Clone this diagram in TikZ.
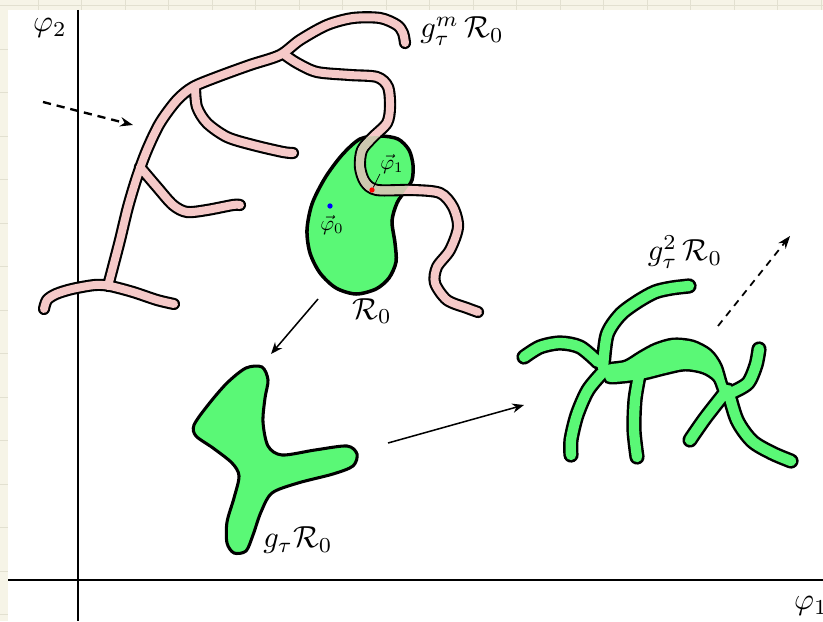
\documentclass[tikz,border=0pt]{standalone}
\usepackage{amsmath}
\usepackage{amssymb}
\usepackage{xcolor}
\usepackage{tikz}
\usetikzlibrary{arrows.meta}

\definecolor{paper}{RGB}{246,244,231}
\definecolor{gridline}{RGB}{226,224,208}
\definecolor{blobgreen}{RGB}{90,248,118}
\definecolor{tubepink}{RGB}{245,201,200}
\definecolor{overlap}{RGB}{205,200,175}

\newcommand{\kidney}{plot[smooth cycle] coordinates {(360,139) (380,136) (398,139) (409,150) (413,165) (412,180) (405,191) (397,203) (392,221) (395,243) (396,262) (389,278) (376,289) (356,294) (336,288) (320,273) (310,253) (307,230) (312,204) (325,178) (342,155)}}
\newcommand{\filament}{
  plot[smooth] coordinates {(44,309) (47,300) (56,294) (72,289) (95,285) (110,286) (133,292) (157,300) (174,304)}
  plot[smooth] coordinates {(108,286) (113,267) (120,240) (128,207) (137,177) (147,150) (160,123) (177,100) (193,87) (217,77) (250,65) (280,55) (300,40) (327,25) (353,18) (380,18) (397,25) (403,33) (405,43)}
  plot[smooth] coordinates {(140,167) (157,187) (173,205) (187,212) (207,210) (233,205) (240,205)}
  plot[smooth] coordinates {(195,88) (197,107) (207,123) (227,137) (253,145) (283,152) (293,153)}
  plot[smooth] coordinates {(285,55) (297,63) (317,72) (350,75) (377,77) (388,87) (390,107) (387,123) (373,137) (362,150) (360,167) (365,182) (377,190) (413,190) (440,193) (453,207) (458,227) (450,250) (437,267) (435,283) (447,300) (467,308) (478,312)}
}
\newcommand{\stretched}{
  plot[smooth] coordinates {(524,357) (540,347) (560,343) (580,347) (598,362)}
  plot[smooth] coordinates {(603,368) (607,335) (620,315) (637,302) (655,292) (672,288) (689,286)}
  plot[smooth] coordinates {(603,372) (588,390) (577,415) (571,440) (571,455)}
  plot[smooth] coordinates {(639,376) (635,400) (634,430) (637,457)}
  plot[smooth] coordinates {(733,392) (748,383) (756,365) (759,349)}
  plot[smooth] coordinates {(724,394) (706,417) (694,434) (690,440)}
  plot[smooth] coordinates {(728,390) (737,420) (752,441) (772,453) (791,461)}
}
\newcommand{\archblob}{plot[smooth cycle] coordinates {(606,366) (625,362) (640,353) (655,345) (673,340) (693,342) (710,351) (720,365) (726,384) (732,394) (722,396) (715,380) (703,372) (685,369) (665,373) (645,378) (625,381) (607,381)}}

\begin{document}
\begin{tikzpicture}[x=0.03cm, y=-0.03cm,
    lbl/.style={scale=2.6, inner sep=0pt},
    vlbl/.style={scale=1.8, inner sep=0pt},
    axis/.style={line width=2pt},
    dot/.style={circle, inner sep=0pt, minimum size=4.5pt},
    tubeedge/.style={line width=10.4pt, line cap=round, line join=round, black},
    pinktube/.style={line width=6.8pt, line cap=round, line join=round, tubepink},
    greenedge/.style={line width=13pt, line cap=round, line join=round, black},
    greentube/.style={line width=8.8pt, line cap=round, line join=round, blobgreen},
    blob/.style={fill=blobgreen, draw=black, line width=2.6pt},
    arrow/.style={-{Stealth[length=10pt, width=8pt]}, line width=1.3pt},
    flow/.style={-{Stealth[length=11pt, width=8pt]}, line width=2pt, dash pattern=on 7pt off 5pt}
  ]
  \useasboundingbox (0,0) rectangle (823,621);
  \fill[paper] (0,0) rectangle (823,621);
  \foreach \gx in {-5.5,38,...,830} \draw[gridline] (\gx,0) -- (\gx,621);
  \foreach \gy in {5.5,49,...,630} \draw[gridline] (0,\gy) -- (823,\gy);
  \fill[white] (8,10) rectangle (823,621);

  \draw[axis] (78,10) -- (78,621);
  \draw[axis] (8,580) -- (823,580);

  \filldraw[blob, line width=3pt] \kidney;
  \draw[tubeedge] \filament;
  \draw[pinktube] \filament;
  \begin{scope}
    \clip \kidney;
    \draw[pinktube, overlap] \filament;
  \end{scope}

  \node[dot, fill=blue] (p0) at (330,206) {};
  \node[dot, fill=red] (p1) at (372,190) {};
  \node[vlbl] (phi0) at (332,225) {$\vec{\varphi}_0$};
  \node[vlbl] (phi1) at (392,164) {$\vec{\varphi}_1$};
  \draw[line width=0.6pt] (p1) -- (phi1.south west);

  \filldraw[blob] plot[smooth cycle] coordinates {(194,425) (208,405) (227,383) (246,368) (262,367) (268,380) (265,398) (263,422) (268,446) (282,455) (315,450) (347,446) (357,454) (353,466) (333,474) (298,483) (272,493) (261,512) (253,535) (246,551) (234,553) (227,543) (227,522) (234,498) (239,476) (232,463) (213,448) (196,436)};

  \draw[greenedge] \stretched;
  \filldraw[black, line width=4.2pt] \archblob;
  \draw[greentube] \stretched;
  \fill[blobgreen] \archblob;

  \node[lbl] (phitwo) at (50,28) {$\varphi_2$};
  \node[lbl] (phione) at (811,606) {$\varphi_1$};
  \node[lbl] (gm) at (462,31) {$g_\tau^m\,\mathcal{R}_0$};
  \node[lbl] (r0) at (372,311) {$\mathcal{R}_0$};
  \node[lbl] (g1) at (298,540) {$g_\tau\mathcal{R}_0$};
  \node[lbl] (g2) at (685,252) {$g_\tau^2\,\mathcal{R}_0$};

  \coordinate (r0out) at (318,299);
  \coordinate (g1in) at (271,354);
  \coordinate (g1out) at (388,443);
  \coordinate (g2in) at (524,405);
  \coordinate (flowfrom) at (43,102);
  \coordinate (flowto) at (133,125);
  \coordinate (g2out) at (718,326);
  \coordinate (away) at (790,236);

  \draw[arrow] (r0out) -- (g1in);
  \draw[arrow] (g1out) -- (g2in);
  \draw[flow] (flowfrom) -- (flowto);
  \draw[flow, line width=1.5pt, dash pattern=on 6pt off 5pt] (g2out) -- (away);
\end{tikzpicture}
\end{document}
